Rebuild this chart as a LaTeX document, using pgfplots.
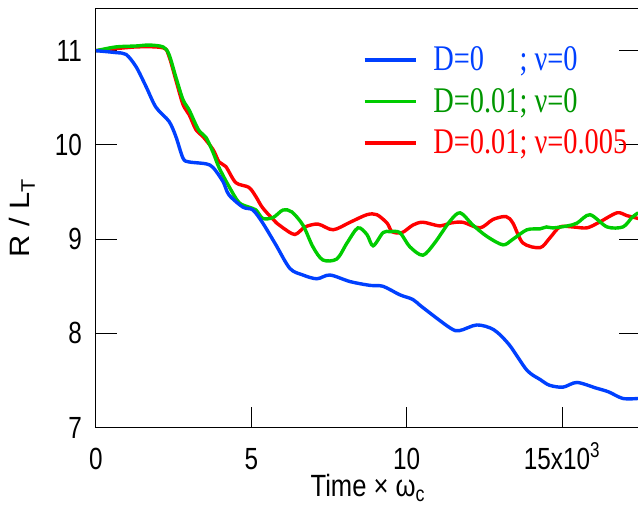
\documentclass[border=0pt]{standalone}
\usepackage{fontspec}
\setmainfont{Liberation Sans}
\newfontfamily\timesfont{Liberation Serif}
\usepackage{pgfplots}
\pgfplotsset{compat=1.18}

\definecolor{cblue}{RGB}{0,64,255}
\definecolor{cgreen}{RGB}{0,204,0}
\definecolor{cred}{RGB}{255,0,0}
\definecolor{tgreen}{RGB}{0,150,0}

\begin{document}
\begin{tikzpicture}
\begin{axis}[
    scale only axis,
    width=543.7pt, height=419.4pt,
    xmin=0, xmax=17.5, ymin=7, ymax=11.45,
    axis line style={line width=1pt},
    every tick/.style={black, line width=1pt},
    major tick length=21pt,
    xtick pos=bottom, ytick pos=both,
    xtick={0,5,10,15}, xticklabels={0,5,10,15x10\textsuperscript{3}},
    ytick={7,8,9,10,11}, yticklabels={7,8,9,10,11},
    xticklabel style={font=\fontsize{24.3}{26}\selectfont, anchor=north, inner sep=0pt,
        yshift=-20pt, yscale=1.26, text height=17pt, text depth=0pt},
    yticklabel style={font=\fontsize{24.3}{26}\selectfont, anchor=east, inner sep=0pt,
        xshift=-14pt, yscale=1.26},
    every axis x label/.style={at={(axis description cs:0.5,-0.1645)}, anchor=base,
        inner sep=0pt, yscale=1.2, font=\fontsize{25.6}{28}\selectfont},
    every axis y label/.style={at={(axis description cs:-0.1214,0.5)}, anchor=base,
        inner sep=0pt, rotate=90, xscale=1.1, font=\fontsize{28}{30}\selectfont},
    xlabel={Time × ω\textsubscript{c}},
    ylabel={R / L\textsubscript{T}},
    reverse legend,
    legend image code/.code={\draw[#1, line width=3.5pt] (0pt,10.7pt) -- (51pt,10.7pt); \path (67pt,0pt);},
    legend style={at={(axis cs:8.59,11.042)}, anchor=north west, draw=none, fill=none,
        inner sep=0pt, outer sep=0pt, row sep=11pt,
        font=\fontsize{28.4}{30}\selectfont\timesfont,
        cells={anchor=base west},
        nodes={inner sep=0pt, text height=19pt, text depth=5pt, yscale=1.27}},
]
\addplot[cred, line width=3.4pt, smooth] coordinates {(0,11.0)(1.29,11.04)(2.16,11.03)(2.35,10.94)(2.57,10.69)(2.8,10.43)(3.0,10.32)(3.22,10.16)(3.44,10.09)(3.77,9.95)(3.96,9.82)(4.18,9.77)(4.5,9.60)(4.92,9.55)(5.15,9.45)(5.37,9.33)(5.82,9.17)(6.02,9.12)(6.4,9.05)(6.73,9.13)(7.15,9.16)(7.63,9.10)(8.18,9.18)(8.72,9.26)(9.04,9.26)(9.37,9.17)(9.53,9.08)(9.85,9.07)(10.2,9.15)(10.52,9.18)(11.07,9.14)(11.39,9.17)(11.8,9.18)(12.36,9.12)(12.78,9.21)(13.2,9.24)(13.42,9.17)(13.74,8.96)(14.29,8.91)(14.6,9.01)(14.93,9.13)(15.35,9.13)(15.8,9.12)(16.2,9.18)(16.77,9.28)(17.09,9.25)(17.45,9.22)};
\addlegendentry{\textcolor{cred}{D=0.01; ν=0.005}}
\addplot[cgreen, line width=3.4pt, smooth] coordinates {(0,11.0)(0.64,11.04)(1.29,11.05)(1.71,11.06)(2.16,11.04)(2.35,10.96)(2.57,10.72)(2.80,10.48)(3.0,10.37)(3.3,10.16)(3.54,10.08)(3.77,9.92)(3.96,9.76)(4.28,9.56)(4.60,9.39)(4.92,9.34)(5.15,9.31)(5.37,9.22)(5.70,9.23)(6.02,9.31)(6.3,9.29)(6.66,9.15)(6.98,8.92)(7.3,8.78)(7.75,8.79)(8.08,8.96)(8.43,9.12)(8.72,9.05)(8.92,8.93)(9.24,9.07)(9.46,9.08)(9.78,9.07)(10.1,8.92)(10.52,8.83)(10.9,8.96)(11.39,9.19)(11.72,9.28)(12.13,9.15)(12.58,9.03)(13.1,8.94)(13.42,9.0)(13.87,9.10)(14.29,9.11)(14.5,9.13)(14.7,9.12)(15.16,9.14)(15.48,9.17)(15.9,9.26)(16.45,9.13)(16.96,9.13)(17.25,9.23)(17.45,9.28)};
\addlegendentry{\textcolor{tgreen}{D=0.01; ν=0}}
\addplot[cblue, line width=3.4pt, smooth] coordinates {(0,11.0)(0.64,10.98)(0.97,10.96)(1.29,10.83)(1.61,10.62)(1.93,10.40)(2.35,10.25)(2.57,10.09)(2.80,9.86)(2.99,9.82)(3.54,9.80)(3.77,9.76)(4.09,9.61)(4.28,9.47)(4.73,9.34)(5.05,9.31)(5.37,9.17)(5.79,8.94)(6.24,8.69)(6.66,8.62)(7.11,8.58)(7.53,8.62)(8.18,8.55)(8.82,8.51)(9.24,8.50)(9.78,8.41)(10.2,8.36)(10.5,8.28)(11.39,8.06)(11.7,8.03)(12.26,8.09)(12.8,8.04)(13.3,7.88)(13.87,7.61)(14.3,7.51)(14.6,7.45)(15.03,7.43)(15.48,7.48)(16.1,7.42)(16.5,7.38)(16.96,7.31)(17.45,7.31)};
\addlegendentry{\textcolor{cblue}{D=0\phantom{.01}; ν=0}}
\end{axis}
\pgfresetboundingbox
\path (-96pt,-82.3pt) rectangle (542pt,427.7pt);
\end{tikzpicture}
\end{document}
